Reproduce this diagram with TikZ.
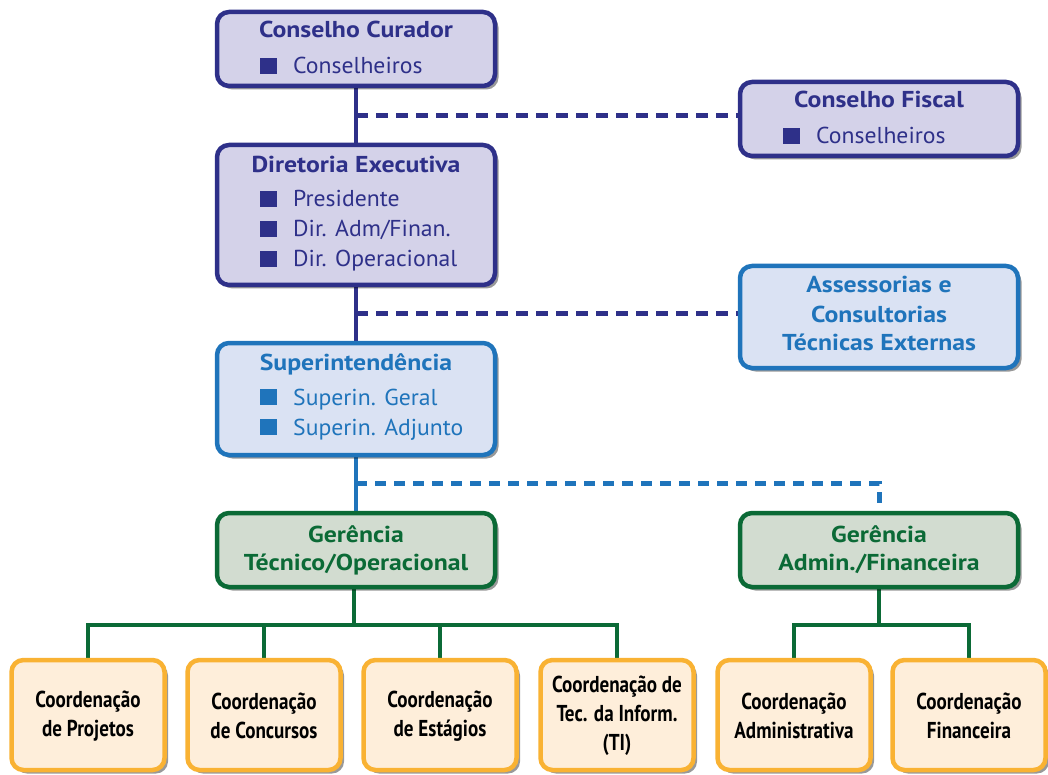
\documentclass[tikz,border=0pt]{standalone}
\usepackage{fontspec}
\setmainfont{PT Sans}[FakeStretch=1.03]
\newfontfamily\ttlfont{PT Sans}[FakeStretch=1.12]
\newfontfamily\condfont{PT Sans}[FakeStretch=0.83]
\usetikzlibrary{shadows,backgrounds}
\definecolor{navy}{HTML}{2E3089}
\definecolor{navyfill}{HTML}{D4D2E9}
\definecolor{mblue}{HTML}{1F74BB}
\definecolor{bluefill}{HTML}{DAE2F3}
\definecolor{dgreen}{HTML}{0B6A36}
\definecolor{greenfill}{HTML}{D2DCD0}
\definecolor{orng}{HTML}{F9B233}
\definecolor{orngfill}{HTML}{FEEEDA}
\tikzset{
  x=1pt, y=-1pt,
  boxbase/.style={draw, rounded corners=12pt, line width=4.5pt, inner sep=0pt,
    drop shadow={shadow xshift=3.5pt, shadow yshift=-3.5pt, opacity=0.4, fill=black}},
  navybox/.style={boxbase, draw=navy, fill=navyfill},
  bluebox/.style={boxbase, draw=mblue, fill=bluefill},
  greenbox/.style={boxbase, draw=dgreen, fill=greenfill},
  coordbox/.style={boxbase, draw=orng, fill=orngfill, minimum width=153, minimum height=110},
  ttl/.style={font=\fontsize{23}{27}\selectfont\ttlfont\bfseries, inner sep=0pt, anchor=base},
  itm/.style={font=\fontsize{23}{27}\selectfont, inner sep=0pt, anchor=base west},
  bul/.style={minimum width=17pt, minimum height=16pt, inner sep=0pt, anchor=south west},
  ctxt/.style={font=\fontsize{23}{29}\selectfont\condfont\bfseries, align=center, inner sep=0pt, text=black},
  solidnavy/.style={draw=navy, line width=4pt},
  solidblue/.style={draw=mblue, line width=4pt},
  solidgreen/.style={draw=dgreen, line width=4pt},
  dashnavy/.style={draw=navy, line width=5pt, dash pattern=on 12pt off 8pt},
  dashblue/.style={draw=mblue, line width=5pt, dash pattern=on 11pt off 8pt},
}
\begin{document}
\begin{tikzpicture}
\useasboundingbox (0,0) rectangle (1048,775);
\node[navybox, minimum width=278, minimum height=74] (cc) at (356,49) {};
\node[navybox, minimum width=278, minimum height=140] (de) at (356,215) {};
\node[bluebox, minimum width=278, minimum height=112] (si) at (356,399) {};
\node[navybox, minimum width=278, minimum height=74] (cf) at (879,119) {};
\node[bluebox, minimum width=278, minimum height=102] (ac) at (879,317) {};
\node[greenbox, minimum width=278, minimum height=74] (gto) at (356,550) {};
\node[greenbox, minimum width=278, minimum height=74] (gaf) at (879,550) {};
\node[coordbox] (c1) at (88,715) {};
\node[coordbox] (c2) at (264,715) {};
\node[coordbox] (c3) at (440,715) {};
\node[coordbox] (c4) at (617,715) {};
\node[coordbox] (c5) at (794,715) {};
\node[coordbox] (c6) at (969,715) {};
\coordinate (j1) at (356,116);
\coordinate (j2) at (356,313);
\coordinate (j3) at (356,483);
\coordinate (t1) at (354,625);
\coordinate (t2) at (879,625);
\begin{scope}[on background layer]
\draw[solidnavy] (cc.south) -- (de.north);
\draw[solidnavy] (de.south) -- (si.north);
\draw[solidblue] (si.south) -- (gto.north);
\draw[dashnavy] (j1) -- (j1 -| cf.west);
\draw[dashnavy] (j2) -- (j2 -| ac.west);
\draw[dashblue] (j3) -| (gaf.north);
\draw[solidgreen] (gto.south -| t1) -- (t1);
\draw[solidgreen] (c1.north) |- (t1);
\draw[solidgreen] (c2.north) |- (t1);
\draw[solidgreen] (c3.north) |- (t1);
\draw[solidgreen] (c4.north) |- (t1);
\draw[solidgreen] (gaf.south) -- (t2);
\draw[solidgreen] (c5.north) |- (t2);
\draw[solidgreen] (c6.north) |- (t2);
\end{scope}
% ---- Conselho Curador
\node[ttl, text=navy] (cct) at (356,38) {Conselho Curador};
\node[bul, fill=navy] (ccb1) at (260,74) {};
\node[itm, text=navy] (cci1) at (293,74) {Conselheiros};
% ---- Conselho Fiscal
\node[ttl, text=navy] (cft) at (879,108) {Conselho Fiscal};
\node[bul, fill=navy] (cfb1) at (783,144) {};
\node[itm, text=navy] (cfi1) at (816,144) {Conselheiros};
% ---- Diretoria Executiva
\node[ttl, text=navy] (det) at (356,173) {Diretoria Executiva};
\node[bul, fill=navy] (deb1) at (260,207) {};
\node[itm, text=navy] (dei1) at (293,207) {Presidente};
\node[bul, fill=navy] (deb2) at (260,237) {};
\node[itm, text=navy] (dei2) at (293,237) {Dir. Adm/Finan.};
\node[bul, fill=navy] (deb3) at (260,267) {};
\node[itm, text=navy] (dei3) at (293,267) {Dir. Operacional};
% ---- Assessorias
\node[ttl, text=mblue] (act1) at (879,292) {Assessorias e};
\node[ttl, text=mblue] (act2) at (879,322) {Consultorias};
\node[ttl, text=mblue] (act3) at (879,350) {Técnicas Externas};
% ---- Superintendencia
\node[ttl, text=mblue] (sit) at (356,370) {Superintendência};
\node[bul, fill=mblue] (sib1) at (260,405) {};
\node[itm, text=mblue] (sii1) at (293,405) {Superin. Geral};
\node[bul, fill=mblue] (sib2) at (260,435) {};
\node[itm, text=mblue] (sii2) at (293,435) {Superin. Adjunto};
% ---- Gerencias
\node[ttl, text=dgreen] (gtot1) at (356,542) {Gerência};
\node[ttl, text=dgreen] (gtot2) at (356,570) {Técnico/Operacional};
\node[ttl, text=dgreen] (gaft1) at (879,542) {Gerência};
\node[ttl, text=dgreen] (gaft2) at (879,570) {Admin./Financeira};
% ---- Coordenacoes
\node[ctxt] (c1t) at (88,716) {Coordenação\\de Projetos};
\node[ctxt] (c2t) at (264,716) {Coordenação\\de Concursos};
\node[ctxt] (c3t) at (440,716) {Coordenação\\de Estágios};
\node[ctxt] (c4t) at (617,716) {Coordenação de\\Tec. da Inform.\\(TI)};
\node[ctxt] (c5t) at (794,716) {Coordenação\\Administrativa};
\node[ctxt] (c6t) at (969,716) {Coordenação\\Financeira};
\end{tikzpicture}
\end{document}
